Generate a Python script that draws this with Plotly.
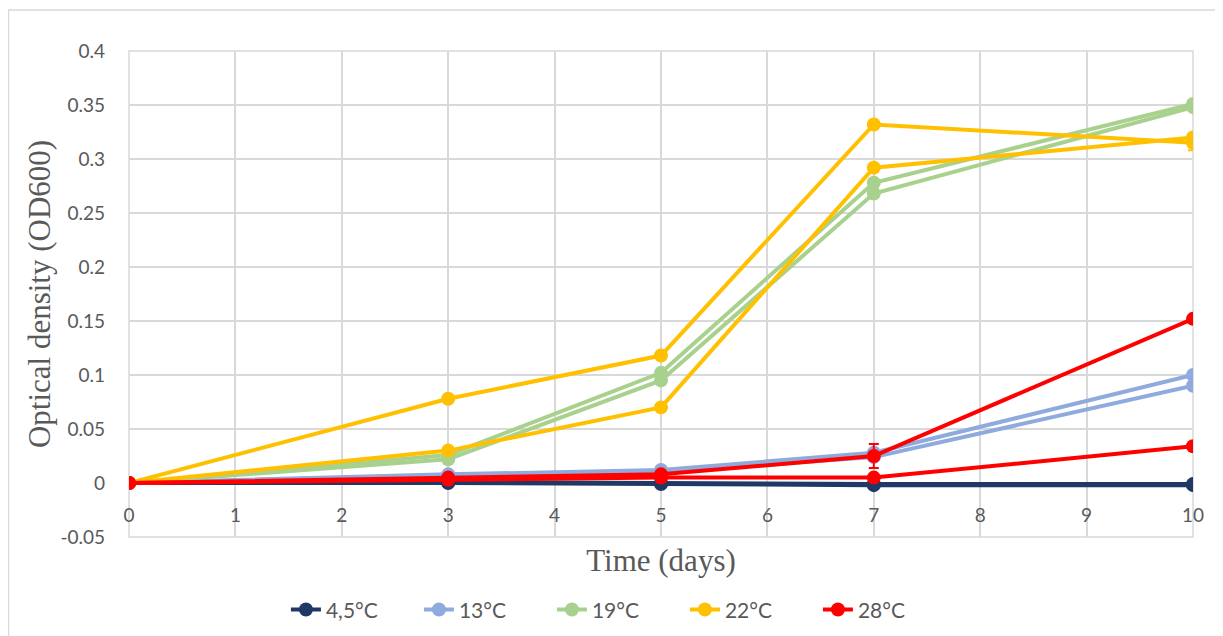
import plotly.graph_objects as go

# ---------------- data ----------------
days = [0, 3, 5, 7, 10]

series_names = ["4,5°C", "13°C", "19°C", "22°C", "28°C"]
series_colors = ["#203864", "#8FAADC", "#A9D18E", "#FFC000", "#FF0000"]

# two replicates per temperature
od_45_a = [0, 0.000, -0.001, -0.002, -0.002]
od_45_b = [0, 0.001, 0.000, -0.001, -0.001]
od_13_a = [0, 0.008, 0.012, 0.028, 0.100]
od_13_b = [0, 0.007, 0.010, 0.024, 0.090]
od_19_a = [0, 0.026, 0.102, 0.278, 0.351]
od_19_b = [0, 0.022, 0.095, 0.268, 0.348]
od_22_a = [0, 0.078, 0.118, 0.332, 0.315]
od_22_b = [0, 0.030, 0.070, 0.292, 0.320]
od_28_a = [0, 0.005, 0.008, 0.025, 0.152]
od_28_b = [0, 0.003, 0.005, 0.005, 0.034]

err_45_a = [0, 0, 0, 0, 0]
err_45_b = [0, 0, 0, 0, 0]
err_13_a = [0, 0.002, 0, 0.002, 0]
err_13_b = [0, 0, 0, 0, 0]
err_19_a = [0, 0, 0, 0, 0]
err_19_b = [0, 0, 0, 0, 0]
err_22_a = [0, 0, 0, 0, 0.007]
err_22_b = [0, 0, 0, 0, 0]
err_28_a = [0, 0, 0, 0.011, 0]
err_28_b = [0, 0, 0, 0, 0]

replicates = [
    (od_45_a, err_45_a, od_45_b, err_45_b),
    (od_13_a, err_13_a, od_13_b, err_13_b),
    (od_19_a, err_19_a, od_19_b, err_19_b),
    (od_22_a, err_22_a, od_22_b, err_22_b),
    (od_28_a, err_28_a, od_28_b, err_28_b),
]

x_ticks = [0, 1, 2, 3, 4, 5, 6, 7, 8, 9, 10]
x_ticktext = ["0", "1", "2", "3", "4", "5", "6", "7", "8", "9", "10"]
y_ticks = [-0.05, 0, 0.05, 0.1, 0.15, 0.2, 0.25, 0.3, 0.35, 0.4]
y_ticktext = ["-0.05", "0", "0.05", "0.1", "0.15", "0.2", "0.25", "0.3", "0.35", "0.4"]

x_title = "Time (days)"
y_title = "Optical density (OD600)"

# ---------------- figure ----------------
fig = go.Figure()

for name, color, (ya, ea, yb, eb) in zip(series_names, series_colors, replicates):
    for i, (yv, ev) in enumerate([(ya, ea), (yb, eb)]):
        fig.add_trace(go.Scatter(
            x=days, y=yv, name=name, legendgroup=name, showlegend=(i == 0),
            mode="lines+markers",
            line=dict(color=color, width=4),
            marker=dict(color=color, size=14, symbol="circle"),
            error_y=dict(type="data", array=ev, visible=True, color=color,
                         thickness=2, width=5),
        ))

grid_col = "#D9D9D9"
tick_font = dict(family="Lato", size=19, color="#595959")
title_font = dict(family="Liberation Serif", size=31, color="#595959")

# page body has an 8px margin, so the figure is 8px smaller each way
fig.update_layout(
    width=1215, height=628,
    margin=dict(l=121, r=30, t=43, b=99, autoexpand=False),
    paper_bgcolor="white", plot_bgcolor="white",
    showlegend=True,
    legend=dict(orientation="h", x=0.46, y=-0.150, xanchor="center", yanchor="middle",
                font=dict(family="Lato", size=21, color="#595959"),
                entrywidth=88, traceorder="normal"),
    xaxis=dict(range=[0, 10], tickvals=x_ticks, ticktext=x_ticktext,
               showgrid=True, gridcolor=grid_col, gridwidth=1.5,
               zeroline=False, showline=False, ticks="",
               anchor="free", position=0.05 / 0.45, automargin=False,
               ticklabelstandoff=19,
               tickfont=tick_font,
               title=dict(text=x_title, font=title_font, standoff=24)),
    yaxis=dict(range=[-0.05, 0.4], tickvals=y_ticks, ticktext=y_ticktext,
               showgrid=True, gridcolor=grid_col, gridwidth=1.5,
               zeroline=False, showline=False, ticks="", automargin=False,
               ticklabelstandoff=23,
               tickfont=tick_font,
               title=dict(text=y_title, font=title_font, standoff=0)),
    shapes=[
        dict(type="rect", xref="paper", yref="paper", x0=0, x1=1, y0=0, y1=1,
             line=dict(color=grid_col, width=1.5), layer="below"),
        dict(type="rect", xref="paper", yref="paper", x0=-0.1133, x1=1.0254,
             y0=-0.228, y1=1.0844, line=dict(color=grid_col, width=1.5), layer="below"),
    ],
)

fig.write_html("out.html")
